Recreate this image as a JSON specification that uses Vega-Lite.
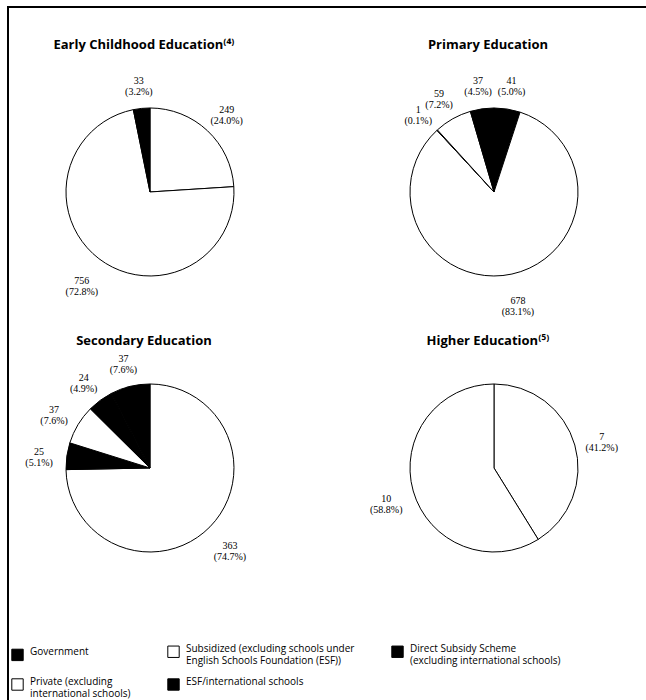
{
  "$schema": "https://vega.github.io/schema/vega-lite/v6.json",
  "width": 640,
  "height": 695,
  "autosize": "none",
  "padding": {"left": 8, "top": 7, "right": -2, "bottom": -2},
  "background": "white",
  "data": {
    "values": [
      {"level": "Early Childhood Education⁽⁴⁾", "type": "Subsidized (excluding schools under English Schools Foundation (ESF))", "count": 249, "pct": "24.0%"},
      {"level": "Early Childhood Education⁽⁴⁾", "type": "Private (excluding international schools)", "count": 756, "pct": "72.8%"},
      {"level": "Early Childhood Education⁽⁴⁾", "type": "ESF/international schools", "count": 33, "pct": "3.2%"},
      {"level": "Primary Education", "type": "Government", "count": 41, "pct": "5.0%"},
      {"level": "Primary Education", "type": "Subsidized (excluding schools under English Schools Foundation (ESF))", "count": 678, "pct": "83.1%"},
      {"level": "Primary Education", "type": "Direct Subsidy Scheme (excluding international schools)", "count": 1, "pct": "0.1%"},
      {"level": "Primary Education", "type": "Private (excluding international schools)", "count": 59, "pct": "7.2%"},
      {"level": "Primary Education", "type": "ESF/international schools", "count": 37, "pct": "4.5%"},
      {"level": "Secondary Education", "type": "Subsidized (excluding schools under English Schools Foundation (ESF))", "count": 363, "pct": "74.7%"},
      {"level": "Secondary Education", "type": "Direct Subsidy Scheme (excluding international schools)", "count": 25, "pct": "5.1%"},
      {"level": "Secondary Education", "type": "Private (excluding international schools)", "count": 37, "pct": "7.6%"},
      {"level": "Secondary Education", "type": "ESF/international schools", "count": 24, "pct": "4.9%"},
      {"level": "Secondary Education", "type": "Government", "count": 37, "pct": "7.6%"},
      {"level": "Higher Education⁽⁵⁾", "type": "Subsidized (excluding schools under English Schools Foundation (ESF))", "count": 7, "pct": "41.2%"},
      {"level": "Higher Education⁽⁵⁾", "type": "Private (excluding international schools)", "count": 10, "pct": "58.8%"}
    ]
  },
  "transform": [
    {"window": [{"op": "row_number", "as": "idx"}]},
    {"stack": "count", "groupby": ["level"], "sort": [{"field": "idx", "order": "ascending"}], "offset": "normalize", "as": ["t0", "t1"]},
    {"calculate": "test(/^(Primary|Higher)/, datum.level) ? 'R' : 'L'", "as": "col"},
    {"calculate": "test(/^(Primary|Early)/, datum.level) ? 'T' : 'B'", "as": "row"},
    {"calculate": "(datum.t0 + datum.t1) / 2", "as": "tm"},
    {"calculate": "[datum.count + '', '(' + datum.pct + ')']", "as": "lbl"}
  ],
  "resolve": {"scale": {"y": "independent"}},
  "layer": [
    {
      "mark": {"type": "arc", "outerRadius": 84, "stroke": "black", "strokeWidth": 1},
      "encoding": {
        "x": {"field": "col", "type": "nominal", "axis": null, "scale": {"type": "point", "domain": ["L", "R"], "padding": 0.4302, "align": 0.4797}},
        "y": {"field": "row", "type": "nominal", "axis": null, "scale": {"type": "point", "domain": ["T", "B"], "padding": 0.759, "align": 0.4415}},
        "theta": {"field": "t0", "type": "quantitative", "scale": {"domain": [0, 1], "range": [0, 6.283185307179586]}},
        "theta2": {"field": "t1"},
        "color": {
          "field": "type",
          "type": "nominal",
          "scale": {
            "domain": ["Government", "Subsidized (excluding schools under English Schools Foundation (ESF))", "Direct Subsidy Scheme (excluding international schools)", "Private (excluding international schools)", "ESF/international schools"],
            "range": ["#000000", "#ffffff", "#000000", "#ffffff", "#000000"]
          },
          "legend": {
            "title": null,
            "orient": "bottom-left",
            "offset": 3,
            "direction": "horizontal",
            "columns": 3,
            "columnPadding": 34,
            "rowPadding": 10,
            "symbolType": "square",
            "symbolSize": 130,
            "symbolStrokeColor": "black",
            "symbolStrokeWidth": 1,
            "labelFont": "Open Sans",
            "labelFontSize": 10,
            "labelColor": "black",
            "labelLimit": 300,
            "labelOffset": 6,
            "labelBaseline": "alphabetic",
            "labelExpr": "datum.label == 'Subsidized (excluding schools under English Schools Foundation (ESF))' ? ['Subsidized (excluding schools under', 'English Schools Foundation (ESF))'] : datum.label == 'Direct Subsidy Scheme (excluding international schools)' ? ['Direct Subsidy Scheme', '(excluding international schools)'] : datum.label == 'Private (excluding international schools)' ? ['Private (excluding', 'international schools)'] : datum.label"
          }
        }
      }
    },
    {
      "mark": {"type": "text", "radius": 112, "font": "Liberation Serif", "fontSize": 10, "lineHeight": 11, "color": "black"},
      "encoding": {
        "x": {"field": "col", "type": "nominal", "axis": null, "scale": {"type": "point", "domain": ["L", "R"], "padding": 0.4302, "align": 0.4797}},
        "y": {"field": "row", "type": "nominal", "axis": null, "scale": {"type": "point", "domain": ["T", "B"], "padding": 0.759, "align": 0.4415}},
        "theta": {"field": "tm", "type": "quantitative"},
        "text": {"field": "lbl"}
      }
    },
    {
      "transform": [{"aggregate": [{"op": "count", "as": "n"}], "groupby": ["level", "col", "row"]}],
      "mark": {"type": "text", "font": "Open Sans", "fontWeight": "bold", "fontSize": 13, "dx": -6, "color": "black"},
      "encoding": {
        "x": {"field": "col", "type": "nominal", "axis": null, "scale": {"type": "point", "domain": ["L", "R"], "padding": 0.4302, "align": 0.4797}},
        "y": {"field": "row", "type": "nominal", "axis": null, "scale": {"type": "point", "domain": ["T", "B"], "padding": 0.674, "align": 0.0952}},
        "text": {"field": "level"}
      }
    }
  ],
  "config": {
    "view": {"stroke": "black", "strokeWidth": 2},
    "style": {"guide-label": {"lineHeight": 12}}
  }
}
